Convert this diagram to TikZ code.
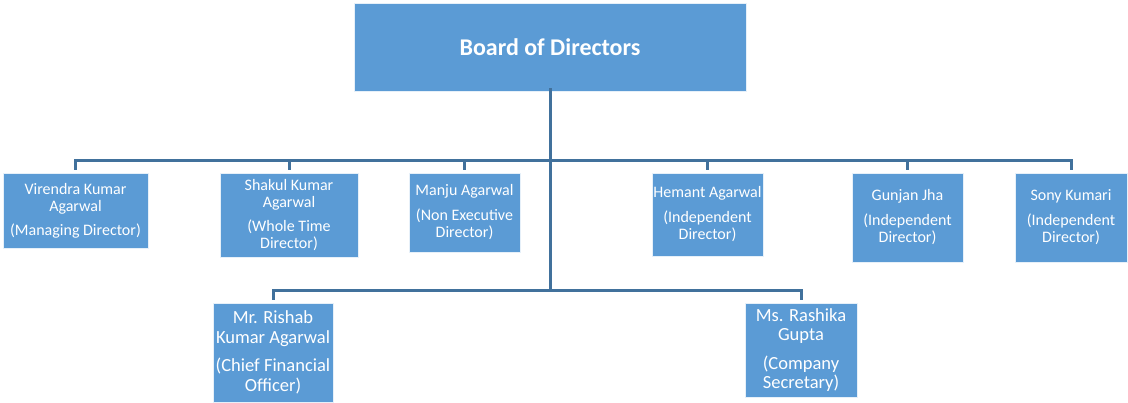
\documentclass[tikz,border=0pt]{standalone}
\usepackage{fontspec}
\setmainfont{Carlito}
\definecolor{boxfill}{HTML}{5B9BD5}
\definecolor{linecol}{HTML}{41719C}
\begin{document}
\begin{tikzpicture}[x=1pt,y=-1pt,
  box/.style={fill=boxfill,draw=white!85!boxfill,line width=0.8pt,text=white,align=center,inner sep=0pt,anchor=center},
  small/.style={font=\fontsize{16}{17.5}\selectfont},
  big/.style={font=\fontsize{18.5}{19.5}\selectfont},
  conn/.style={draw=linecol,line width=3pt}]
\useasboundingbox (0,0) rectangle (1128,403);
\node[box,minimum width=392pt,minimum height=88pt,font=\fontsize{24}{28}\selectfont\bfseries] (board) at (550,47) {Board of Directors};
\node[box,small,minimum width=145pt,minimum height=75pt] (vir) at (75.5,210.5) {Virendra Kumar\\Agarwal\\[6pt](Managing Director)};
\node[box,small,minimum width=138pt,minimum height=84pt] (sha) at (289,215) {Shakul Kumar\\Agarwal\\[6pt](Whole Time\\Director)};
\node[box,small,minimum width=111pt,minimum height=79pt] (man) at (464.5,212.5) {Manju Agarwal\\[7pt](Non Executive\\Director)};
\node[box,small,minimum width=111pt,minimum height=83pt] (hem) at (707.5,214.5) {Hemant Agarwal\\[7pt](Independent\\Director)};
\node[box,small,minimum width=111pt,minimum height=89pt] (gun) at (907.5,217.5) {Gunjan Jha\\[7pt](Independent\\Director)};
\node[box,small,minimum width=112pt,minimum height=89pt] (son) at (1071,217.5) {Sony Kumari\\[7pt](Independent\\Director)};
\node[box,big,minimum width=120pt,minimum height=99pt] (ris) at (273,352.5) {Mr. Rishab\\Kumar Agarwal\\[9pt](Chief Financial\\Officer)};
\node[box,big,minimum width=112pt,minimum height=94pt] (ras) at (801,350) {Ms. Rashika\\Gupta\\[9pt](Company\\Secretary)};
\coordinate (j1) at (550,161);
\coordinate (j2) at (550,291);
\draw[conn] ([yshift=3pt]board.south) -- (j2);
\foreach \n in {vir,sha,man,hem,gun,son}{
  \draw[conn,shorten >=3pt] (j1) -| (\n.north);
}
\foreach \n in {ris,ras}{
  \draw[conn,shorten >=3pt] (j2) -| (\n.north);
}
\end{tikzpicture}
\end{document}
